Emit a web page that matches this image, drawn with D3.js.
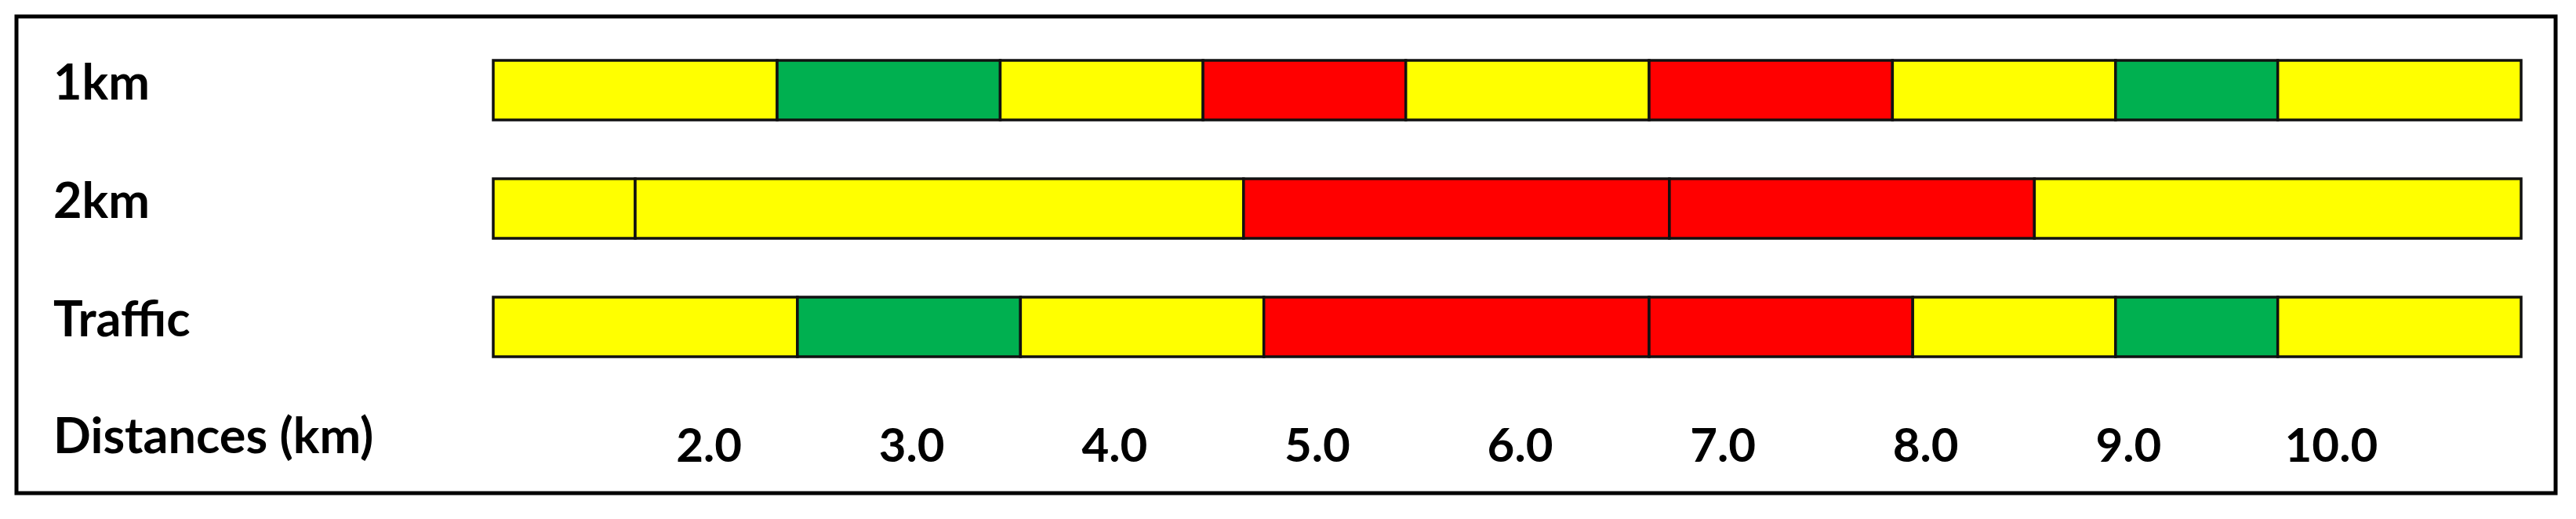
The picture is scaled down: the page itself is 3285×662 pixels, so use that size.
<!DOCTYPE html>
<html>

<head>
  <title>Distances chart</title>
  <meta charset="utf-8" />
  <script src="https://d3js.org/d3.v7.min.js"></script>
  <style>
    body { margin: 0; background: white; }
    text { font-family: Lato, "Open Sans", sans-serif; font-weight: bold; fill: black; }
  </style>
</head>

<body>
  <svg id="chart" width="3285" height="662"></svg>

  <script>
    // rows of the chart
    const rows = ["1km", "2km", "Traffic"];

    // segment breaks (km) and colour level for each row
    const breaks1km = [1, 2.4, 3.5, 4.5, 5.5, 6.7, 7.9, 9.0, 9.8, 11];
    const levels1km = ["Y", "G", "Y", "R", "Y", "R", "Y", "G", "Y"];

    const breaks2km = [1, 1.7, 4.7, 6.8, 8.6, 11];
    const levels2km = ["Y", "Y", "R", "R", "Y"];

    const breaksTraffic = [1, 2.5, 3.6, 4.8, 6.7, 8.0, 9.0, 9.8, 11];
    const levelsTraffic = ["Y", "G", "Y", "R", "R", "Y", "G", "Y"];

    const tickValues = [2, 3, 4, 5, 6, 7, 8, 9, 10];
    const axisTitle = "Distances (km)";

    const svg = d3.select("#chart");

    // outer frame
    svg.append("rect")
      .attr("x", 21).attr("y", 21)
      .attr("width", 3238).attr("height", 608)
      .attr("fill", "white")
      .attr("stroke", "black")
      .attr("stroke-width", 5);

    const x = d3.scaleLinear().domain([1, 11]).range([629, 3215]);
    const y = d3.scaleBand().domain(rows).range([77, 455]).paddingInner(0.4967).paddingOuter(0);
    const color = d3.scaleOrdinal().domain(["Y", "G", "R"]).range(["#ffff00", "#00b050", "#ff0000"]);

    const rowData = [
      { name: "1km", breaks: breaks1km, levels: levels1km },
      { name: "2km", breaks: breaks2km, levels: levels2km },
      { name: "Traffic", breaks: breaksTraffic, levels: levelsTraffic }
    ];

    // turn breaks into segments
    const segments = [];
    rowData.forEach(r => {
      r.levels.forEach((lvl, i) => {
        segments.push({ row: r.name, start: r.breaks[i], end: r.breaks[i + 1], level: lvl });
      });
    });

    svg.selectAll("rect.seg")
      .data(segments)
      .join("rect")
      .attr("class", "seg")
      .attr("x", d => x(d.start))
      .attr("y", d => y(d.row))
      .attr("width", d => x(d.end) - x(d.start))
      .attr("height", y.bandwidth())
      .attr("fill", d => color(d.level))
      .attr("stroke", "#111")
      .attr("stroke-width", 3.5);

    // row labels
    svg.selectAll("text.rowlabel")
      .data(rows)
      .join("text")
      .attr("class", "rowlabel")
      .attr("x", 68)
      .attr("y", d => y(d) + y.bandwidth() / 2 + 12)
      .attr("font-size", 63)
      .text(d => d);

    // distance labels
    const axis = d3.axisBottom(x)
      .tickValues(tickValues)
      .tickFormat(d3.format(".1f"))
      .tickSize(0);

    const axisG = svg.append("g")
      .attr("transform", "translate(16,0)")
      .call(axis);
    axisG.select(".domain").remove();
    axisG.selectAll("text")
      .attr("y", 589)
      .attr("dy", null)
      .attr("font-size", 60)
      .style("font-family", "Lato, 'Open Sans', sans-serif")
      .style("font-weight", "bold")
      .attr("fill", "black");

    svg.append("text")
      .attr("x", 68)
      .attr("y", 578)
      .attr("font-size", 63)
      .text(axisTitle);
  </script>
</body>

</html>
